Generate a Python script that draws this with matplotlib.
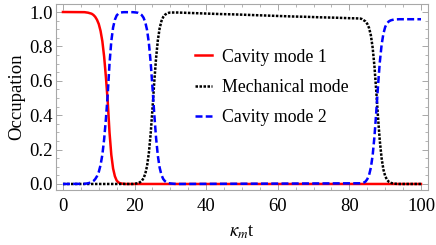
import matplotlib
matplotlib.use('Agg')
import matplotlib.pyplot as plt
from matplotlib.ticker import MultipleLocator

plt.rcParams['font.family'] = ['Liberation Serif', 'DejaVu Serif']
plt.rcParams['mathtext.fontset'] = 'stix'

# cavity mode 1 (red, solid)
t_cav1 = [0, 6, 7, 8, 8.5, 9, 9.5, 10, 10.5, 11, 11.5, 12, 12.5, 13, 13.5,
          14, 14.5, 15, 15.5, 16, 16.5, 17, 17.5, 100]
cav1 = [1.0, 0.999, 0.996, 0.99, 0.983, 0.972, 0.955, 0.93, 0.89, 0.83, 0.74,
        0.62, 0.48, 0.30, 0.17, 0.09, 0.045, 0.02, 0.009, 0.004, 0.002, 0.001,
        0.0, 0.0]

# mechanical mode (black, dotted)
t_mech = [0, 19.5, 20, 20.5, 21, 21.5, 22, 22.5, 23, 23.5, 24, 24.5, 25, 25.5,
          26, 26.5, 27, 27.5, 28, 28.5, 29, 29.5, 30,
          32, 36, 40, 44, 48, 52, 56, 60, 64, 68, 72, 76, 80, 82, 83,
          83.5, 84, 84.5, 85, 85.5, 86, 86.5, 87, 87.5, 88, 88.5, 89, 89.5,
          90, 90.5, 91, 91.5, 92, 92.5, 93, 94, 100]
mech = [0.0, 0.0, 0.0015, 0.003, 0.005, 0.010, 0.018, 0.033, 0.060, 0.106,
        0.182, 0.294, 0.438, 0.593, 0.731, 0.836, 0.905, 0.947, 0.971, 0.984,
        0.991, 0.995, 0.997,
        0.997, 0.994, 0.991, 0.988, 0.986, 0.983, 0.980, 0.977, 0.974, 0.972,
        0.969, 0.967, 0.964, 0.963, 0.962,
        0.959, 0.952, 0.945, 0.931, 0.907, 0.864, 0.792, 0.684, 0.542, 0.387,
        0.250, 0.150, 0.084, 0.046, 0.025, 0.013, 0.007, 0.004, 0.002, 0.001,
        0.0, 0.0]

# cavity mode 2 (blue, dashed)
t_cav2 = [0, 6, 7, 8, 8.5, 9, 9.5, 10, 10.5, 11, 11.5, 12, 12.5, 13, 13.5,
          14, 14.5, 15, 15.5, 16, 16.5, 17, 17.5, 18, 18.5, 19, 19.5, 20,
          20.5, 21, 21.5, 22, 22.5, 23, 23.5, 24, 24.5, 25, 25.5, 26, 26.5,
          27, 27.5, 28, 28.5, 29, 29.5, 30, 30.5, 31, 32,
          83.5, 84, 84.5, 85, 85.5, 86, 86.5, 87, 87.5, 88, 88.5, 89, 89.5,
          90, 90.5, 91, 91.5, 92, 92.5, 93, 94, 100]
cav2 = [0.0, 0.001, 0.004, 0.01, 0.017, 0.028, 0.045, 0.07, 0.11, 0.17, 0.26,
        0.38, 0.52, 0.70, 0.83, 0.91, 0.955, 0.98, 0.991, 0.996, 0.998, 0.999,
        0.999, 0.999, 0.999, 0.999, 0.999, 0.998,
        0.997, 0.995, 0.990, 0.982, 0.967, 0.940, 0.894, 0.818, 0.706, 0.562,
        0.407, 0.269, 0.164, 0.095, 0.053, 0.029, 0.016, 0.009, 0.005, 0.003,
        0.002, 0.001, 0.0,
        0.004, 0.008, 0.014, 0.028, 0.052, 0.095, 0.167, 0.275, 0.417, 0.572,
        0.709, 0.809, 0.874, 0.913, 0.934, 0.945, 0.951, 0.954, 0.956, 0.957,
        0.958, 0.958]

labels = ['Cavity mode 1', 'Mechanical mode', 'Cavity mode 2']

fig = plt.figure(figsize=(4.36, 2.45), dpi=100)
ax = fig.add_axes([0.128, 0.2245, 0.854, 0.7595])

ax.plot(t_cav1, cav1, color='#ff0000', lw=1.8, label=labels[0])
ax.plot(t_mech, mech, color='black', lw=1.8, dashes=(1.0, 0.6), label=labels[1])
ax.plot(t_cav2, cav2, color='#0000ff', lw=1.8, dashes=(2.8, 1.3), label=labels[2])

ax.set_xlim(-2, 102)
ax.set_ylim(-0.035, 1.047)
ax.xaxis.set_major_locator(MultipleLocator(20))
ax.xaxis.set_minor_locator(MultipleLocator(5))
ax.yaxis.set_major_locator(MultipleLocator(0.2))
ax.yaxis.set_minor_locator(MultipleLocator(0.05))
ax.yaxis.set_major_formatter(plt.FormatStrFormatter('%.1f'))

frame_col = '#a8a8a8'
for s in ax.spines.values():
    s.set_color(frame_col)
    s.set_linewidth(0.8)
ax.tick_params(which='both', direction='in', top=True, right=True,
               color=frame_col, labelsize=13.5)
ax.tick_params(which='major', length=4, width=0.7)
ax.tick_params(which='minor', length=2, width=0.6)
ax.tick_params(axis='x', which='major', pad=6)
ax.tick_params(axis='y', which='major', pad=2)

ax.set_ylabel('Occupation', fontsize=13.5, labelpad=3)
ax.set_xlabel(r'$\kappa_m$t', fontsize=13.5, labelpad=6)

ax.legend(loc='upper left', bbox_to_anchor=(0.373, 0.76), frameon=False,
          fontsize=12.8, handlelength=1.0, handletextpad=0.55,
          labelspacing=0.75, borderaxespad=0, borderpad=0)

fig.savefig('out.png', dpi=100)
